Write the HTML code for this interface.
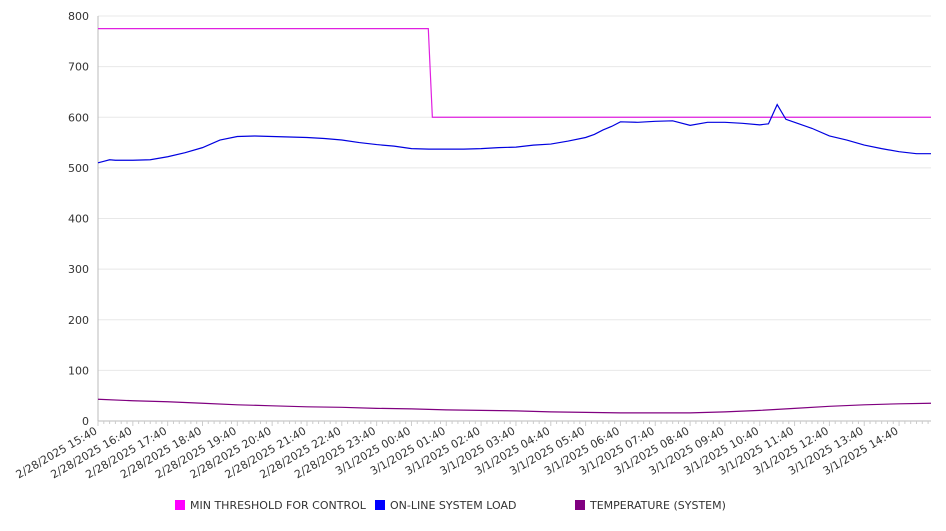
<!DOCTYPE html>
<html><head><meta charset="utf-8"><style>
body{margin:0;background:#fff;font-family:"Liberation Sans","DejaVu Sans",sans-serif}
svg text{font-family:"DejaVu Sans","Liberation Sans",sans-serif;fill:#333}
</style></head><body>
<svg id="c" width="946" height="526"></svg>
<script>
const yTicks=[0,100,200,300,400,500,600,700,800];
const xLabels=["2/28/2025 15:40","2/28/2025 16:40","2/28/2025 17:40","2/28/2025 18:40","2/28/2025 19:40","2/28/2025 20:40","2/28/2025 21:40","2/28/2025 22:40","2/28/2025 23:40","3/1/2025 00:40","3/1/2025 01:40","3/1/2025 02:40","3/1/2025 03:40","3/1/2025 04:40","3/1/2025 05:40","3/1/2025 06:40","3/1/2025 07:40","3/1/2025 08:40","3/1/2025 09:40","3/1/2025 10:40","3/1/2025 11:40","3/1/2025 12:40","3/1/2025 13:40","3/1/2025 14:40"];
const loadTimes=[0,10,20,30,60,90,120,150,180,210,240,270,300,330,360,390,420,450,480,510,540,570,600,630,660,690,720,750,780,810,840,855,870,885,900,930,960,990,1020,1050,1080,1110,1140,1155,1170,1185,1200,1230,1260,1290,1320,1350,1380,1410,1435];
const loadValues=[510,513,516,515,515,516,522,530,540,555,562,563,562,561,560,558,555,550,546,543,538,537,537,537,538,540,541,545,547,553,560,566,575,582,591,590,592,593,584,590,590,588,585,587,625,596,590,578,563,555,545,538,532,528,528];
const thrTimes=[0,569,576,1435];
const thrValues=[775,775,600,600];
const tempTimes=[0,60,120,180,240,300,360,420,480,540,600,660,720,780,840,900,960,1020,1080,1140,1200,1260,1320,1380,1435];
const tempValues=[43,40,38,35,32,30,28,27,25,24,22,21,20,18,17,16,16,16,18,21,25,29,32,34,35];
const X0=98,X1=931,Y0=421,Y1=16,TMAX=1435;
const sx=t=>X0+(X1-X0)*t/TMAX, sy=v=>Y0-(Y0-Y1)*v/800;
const svg=document.getElementById('c'),NS='http://www.w3.org/2000/svg';
function mk(tag,attrs,parent){const e=document.createElementNS(NS,tag);for(const k in attrs)e.setAttribute(k,attrs[k]);(parent||svg).appendChild(e);return e;}
yTicks.forEach(v=>{
 const g=mk('line',{x1:X0,x2:X1,y1:sy(v),y2:sy(v),stroke:v===0?'#bbb':'#e8e8e8','stroke-width':1});
 
 
 const t=mk('text',{x:89,y:sy(v)+4,'text-anchor':'end','font-size':11});
 t.textContent=v;
 
 
});
const ax=mk('line',{x1:X0,x2:X0,y1:Y1,y2:Y0,stroke:'#bbb'});


for(let t=0;t<=TMAX;t+=10){
 const tk=mk('line',{x1:sx(t),x2:sx(t),y1:Y0,y2:Y0+(t%60===0?5:3),stroke:'#ccc'});
 
 
}
xLabels.forEach((l,i)=>{
 const x=sx(i*60),y=Y0+12;
 const t=mk('text',{x:x,y:y,'text-anchor':'end','font-size':11,transform:`rotate(-30 ${x} ${y})`});
 t.textContent=l;
 
 
});
function series(ts,vs,color,name){
 const p=mk('polyline',{points:ts.map((t,i)=>sx(t)+','+sy(vs[i])).join(' '),fill:'none',stroke:color,'stroke-width':1.2});
 
 
}
series(thrTimes,thrValues,'#e020e0','min-threshold-line');
series(loadTimes,loadValues,'#0000e0','system-load-line');
series(tempTimes,tempValues,'#800080','temperature-line');
const leg=[['#ff00ff','MIN THRESHOLD FOR CONTROL',175],['#0000ff','ON-LINE SYSTEM LOAD',375],['#800080','TEMPERATURE (SYSTEM)',575]];
leg.forEach(l=>{
 const g=mk('g',{});
 
 
 mk('rect',{x:l[2],y:500,width:10,height:10,fill:l[0]},g);
 const t=mk('text',{x:l[2]+15,y:509,'font-size':11},g);
 t.textContent=l[1];
});
</script>
</body></html>
